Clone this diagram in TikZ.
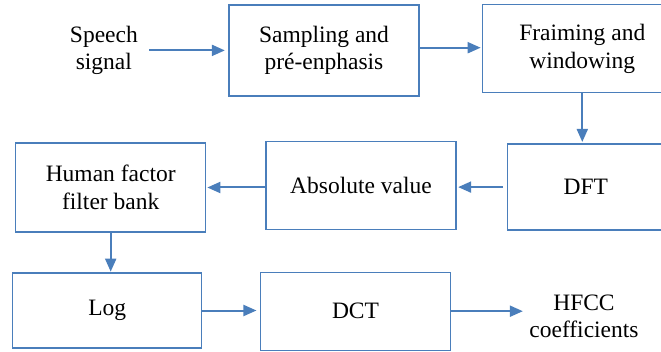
\documentclass[tikz,border=0pt]{standalone}
\usepackage{fontspec}
\setmainfont{Liberation Serif}
\newfontfamily\diagfont{Liberation Serif}
\usepackage{tikz}
\usetikzlibrary{arrows.meta, positioning}
\definecolor{lineblue}{HTML}{4A7EBB}
\tikzset{
	block/.style={
		rectangle, 
		minimum width=190pt, 
		minimum height=88pt, 
		align=center, 
		draw=lineblue, 
		line width=1.3pt,
		fill=white,
		font=\diagfont\fontsize{23.5}{27.5}\selectfont
	},
	plain/.style={
		align=center,
		font=\diagfont\fontsize{23.5}{27.5}\selectfont
	},
	arrow/.style={draw=lineblue, line width=2pt, -{Triangle[length=13pt, width=11pt]}}
}

\begin{document}
\begin{tikzpicture}[x=1pt, y=1pt]
				\useasboundingbox (0,0) rectangle (661,351);
				\node (samp) [block, minimum height=91pt] at (324,300.6) {Sampling and\\pré-enphasis};
				\node (speech) [plain, left=87pt of samp] {Speech\\signal};
				\node (frame) [block, minimum width=200pt, right=62pt of samp, yshift=1.6pt] {Fraiming and\\windowing};
				
				\node (dft) [block, minimum width=156pt, minimum height=86pt, below=50pt of frame, xshift=3.5pt] {DFT};
				\node (abs) [block, left=50.5pt of dft, yshift=1.3pt] {Absolute value};
				\node (human) [block, minimum height=89pt, left=59pt of abs, yshift=-1.7pt] {Human factor\\filter bank};
				
				\node (log) [block, minimum width=189pt, minimum height=75pt, below=39.7pt of human, xshift=-3.4pt] {Log};
				\node (dct) [block, minimum height=78pt, right=57.4pt of log, yshift=-0.7pt] {DCT};
				\node (hfcc) [plain, right=74.7pt of dct, yshift=-5pt] {HFCC\\coefficients};
				
				\draw [arrow, shorten <=8pt, shorten >=3.5pt] (speech.east) -- (speech.east -| samp.west);
				\draw [arrow, shorten >=1pt] (samp.east |- 0,303.3) -- (frame.west |- 0,303.3);
				\draw [arrow, shorten >=1.5pt] (frame.south) -- (frame.south |- dft.north);
				\draw [arrow, shorten <=4pt, shorten >=1.5pt] (dft.west) -- (dft.west -| abs.east);
				\draw [arrow, shorten >=1pt] (human.east -| abs.west) -- (human.east);
				\draw [arrow, shorten >=0.7pt] (human.south) -- (human.south |- log.north);
				\draw [arrow, shorten >=3.4pt] (log.east) -- (log.east -| dct.west);
				\draw [arrow, shorten >=3pt] (dct.east) -- (dct.east -| hfcc.west);
			\end{tikzpicture}
\end{document}
